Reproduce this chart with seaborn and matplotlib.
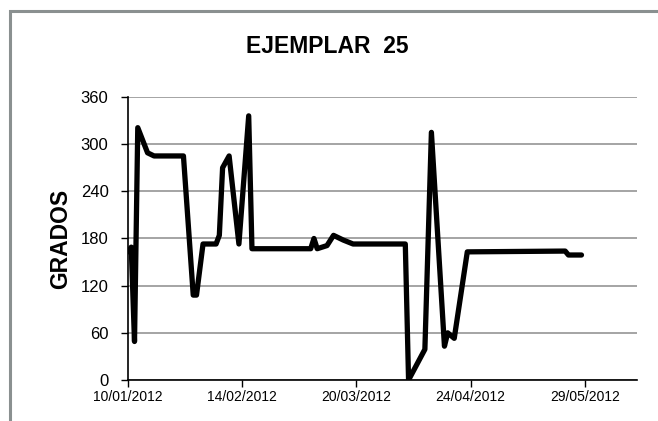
import pandas as pd
import seaborn as sns
import matplotlib.pyplot as plt
import matplotlib.dates as mdates
from matplotlib.patches import Rectangle

# Values
fechas = ['2012-01-10', '2012-01-11', '2012-01-12', '2012-01-13', '2012-01-16',
          '2012-01-18', '2012-01-27', '2012-01-30', '2012-01-31', '2012-02-02',
          '2012-02-06', '2012-02-07', '2012-02-08', '2012-02-10', '2012-02-13',
          '2012-02-16', '2012-02-17', '2012-03-06', '2012-03-07', '2012-03-08',
          '2012-03-11', '2012-03-13', '2012-03-16', '2012-03-19', '2012-04-04',
          '2012-04-05', '2012-04-10', '2012-04-12', '2012-04-16', '2012-04-17',
          '2012-04-19', '2012-04-23', '2012-05-23', '2012-05-24', '2012-05-28']
grados = [163, 169, 49, 321, 289, 285, 285, 108, 108, 173,
          173, 184, 270, 285, 173, 336, 167, 167, 180, 167,
          171, 184, 178, 173, 173, 0, 39, 315, 43, 60,
          53, 163, 164, 159, 159]

tick_fechas = ['2012-01-10', '2012-02-14', '2012-03-20', '2012-04-24', '2012-05-29']
y_ticks = [0, 60, 120, 180, 240, 300, 360]

df = pd.DataFrame({'fecha': pd.to_datetime(fechas), 'grados': grados})

sns.set_style("white")
plt.rcParams['font.family'] = ['Liberation Sans', 'DejaVu Sans']
plt.rcParams['text.color'] = 'black'
plt.rcParams['axes.labelcolor'] = 'black'
plt.rcParams['xtick.color'] = 'black'
plt.rcParams['ytick.color'] = 'black'

fig = plt.figure(figsize=(6.58, 4.21), dpi=100)
ax = fig.add_axes([0.1945, 0.0974, 0.968 - 0.1945, 0.7696 - 0.0974])

sns.lineplot(data=df, x='fecha', y='grados', color='black', linewidth=3.8, ax=ax)

ax.set_ylim(0, 360)
ax.set_yticks(y_ticks)
ax.set_xlim(pd.Timestamp('2012-01-10'), pd.Timestamp('2012-06-14'))
ax.set_xticks(pd.to_datetime(tick_fechas))
ax.xaxis.set_major_formatter(mdates.DateFormatter('%d/%m/%Y'))

ax.grid(axis='y', color='#8c8c8c', linewidth=1.1)
ax.grid(axis='x', visible=False)
for s in ['top', 'right']:
    ax.spines[s].set_visible(False)
for s in ['left', 'bottom']:
    ax.spines[s].set_color('black')
    ax.spines[s].set_linewidth(1.2)

ax.tick_params(axis='both', direction='out', length=5, width=1,
               left=True, bottom=True)
ax.tick_params(axis='y', labelsize=12, pad=9)
ax.tick_params(axis='x', labelsize=10, pad=2)

ax.set_xlabel('')
ax.set_ylabel('GRADOS', fontsize=16.5, fontweight='bold', labelpad=6)
fig.text(0.497, 0.89, 'EJEMPLAR  25', ha='center', va='center',
         fontsize=16.5, fontweight='bold')

# grey outer chart frame (cut off at right and bottom)
fig.patches.append(Rectangle((10 / 658, -0.1), 1.2, 0.974 + 0.1,
                             transform=fig.transFigure, fill=False,
                             edgecolor='#8a9090', linewidth=2.2))

fig.savefig('out.png', dpi=100)
